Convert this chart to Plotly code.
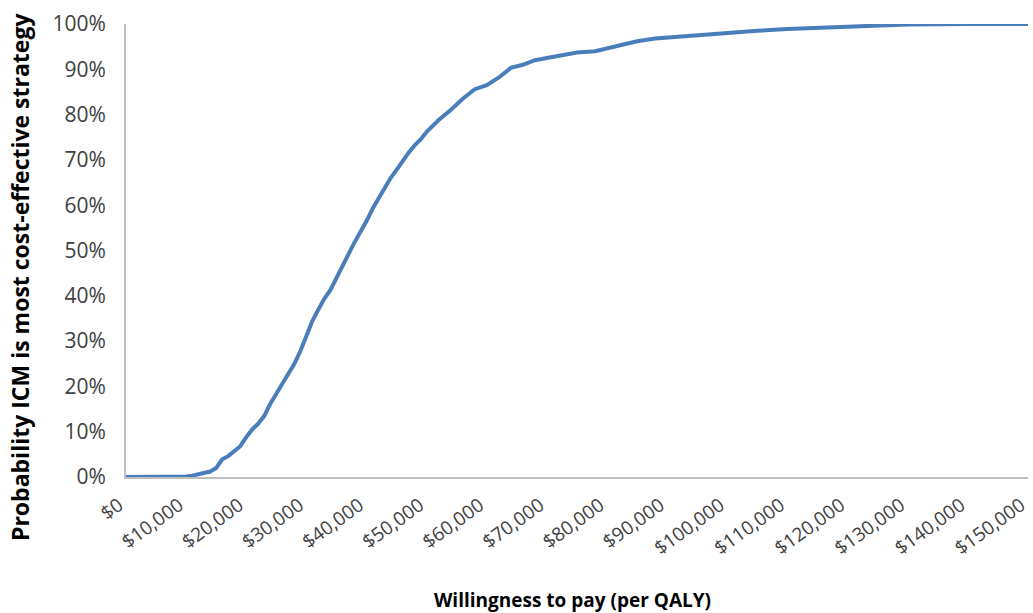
import plotly.graph_objects as go

# Willingness-to-pay thresholds (US$ per QALY)
wtp = [0, 5000, 9000, 10000, 11000, 12000, 13000, 14000, 15000, 16000, 17000,
       18000, 19000, 20000, 21000, 22000, 23000, 24000, 25000, 26000, 27000,
       28000, 29000, 30000, 31000, 32000, 33000, 34000, 35000, 36000, 37000,
       38000, 39000, 40000, 41000, 42000, 43000, 44000, 45000, 46000, 47000,
       48000, 49000, 50000, 52000, 54000, 56000, 58000, 60000, 62000, 64000,
       66000, 68000, 70000, 72000, 75000, 78000, 80000, 82000, 85000, 88000,
       90000, 95000, 100000, 105000, 110000, 115000, 120000, 125000, 130000,
       140000, 150000]

# Probability (%) that ICM is the most cost-effective strategy
prob_icm = [0, 0, 0, 0.1, 0.3, 0.6, 0.9, 1.2, 2.0, 3.9, 4.6,
            5.8, 6.8, 8.8, 10.5, 11.8, 13.5, 16.2, 18.3, 20.8, 22.6,
            25.0, 27.8, 31.2, 34.5, 37.0, 39.4, 41.3, 43.8, 46.5, 49.2,
            51.8, 54.0, 56.5, 59.2, 61.5, 63.8, 66.0, 67.8, 69.8, 71.6,
            73.2, 74.5, 76.2, 78.8, 81.0, 83.5, 85.6, 86.5, 88.2, 90.3,
            91.0, 92.0, 92.5, 93.0, 93.7, 94.0, 94.6, 95.2, 96.2, 96.8,
            97.0, 97.7, 98.2, 98.5, 98.9, 99.2, 99.5, 99.7, 99.9,
            100, 100]

x_tick_vals = list(range(0, 150001, 10000))
x_tick_text = ["$" + format(v, ",") for v in x_tick_vals]
y_tick_vals = list(range(0, 101, 10))
y_tick_text = [f"{v}%" for v in y_tick_vals]

FONT = "Open Sans"
TICK_COLOR = "#404040"
AXIS_COLOR = "#bfbfbf"

fig = go.Figure(
    go.Scatter(
        x=wtp,
        y=prob_icm,
        mode="lines",
        line=dict(color="#4a7ebb", width=4),
        hoverinfo="skip",
    )
)

fig.update_layout(
    width=1033,
    height=613,
    margin=dict(l=126, r=5, t=24, b=136, autoexpand=False),
    paper_bgcolor="white",
    plot_bgcolor="white",
    showlegend=False,
    font=dict(family=FONT, color=TICK_COLOR),
    xaxis=dict(
        range=[0, 150000],
        tickmode="array",
        tickvals=x_tick_vals,
        ticktext=x_tick_text,
        tickangle=-36,
        tickfont=dict(size=19, color=TICK_COLOR),
        ticklabeloverflow="allow",
        ticklabelshift=-7,
        ticklabelstandoff=8,
        automargin=False,
        showgrid=False,
        zeroline=False,
        showline=True,
        linecolor=AXIS_COLOR,
        linewidth=2,
        ticks="",
    ),
    yaxis=dict(
        range=[0, 100],
        tickmode="array",
        tickvals=y_tick_vals,
        ticktext=y_tick_text,
        tickfont=dict(size=21, color=TICK_COLOR),
        automargin=False,
        showgrid=False,
        zeroline=False,
        showline=True,
        linecolor=AXIS_COLOR,
        linewidth=2,
        ticks="outside",
        ticklen=14,
        tickcolor="rgba(0,0,0,0)",
    ),
    annotations=[
        dict(
            text="<b>Willingness to pay (per QALY)</b>",
            xref="paper", yref="paper",
            x=0.4945, y=-0.2715,
            xanchor="center", yanchor="middle",
            showarrow=False,
            font=dict(family=FONT, size=19, color="#000000"),
        ),
        dict(
            text="<b>Probability ICM is most cost-effective strategy</b>",
            xref="paper", yref="paper",
            x=-0.1175, y=0.4415,
            xanchor="center", yanchor="middle",
            textangle=-90,
            showarrow=False,
            font=dict(family=FONT, size=23, color="#000000"),
        ),
    ],
)

fig.write_html("out.html", config={"displayModeBar": False})
